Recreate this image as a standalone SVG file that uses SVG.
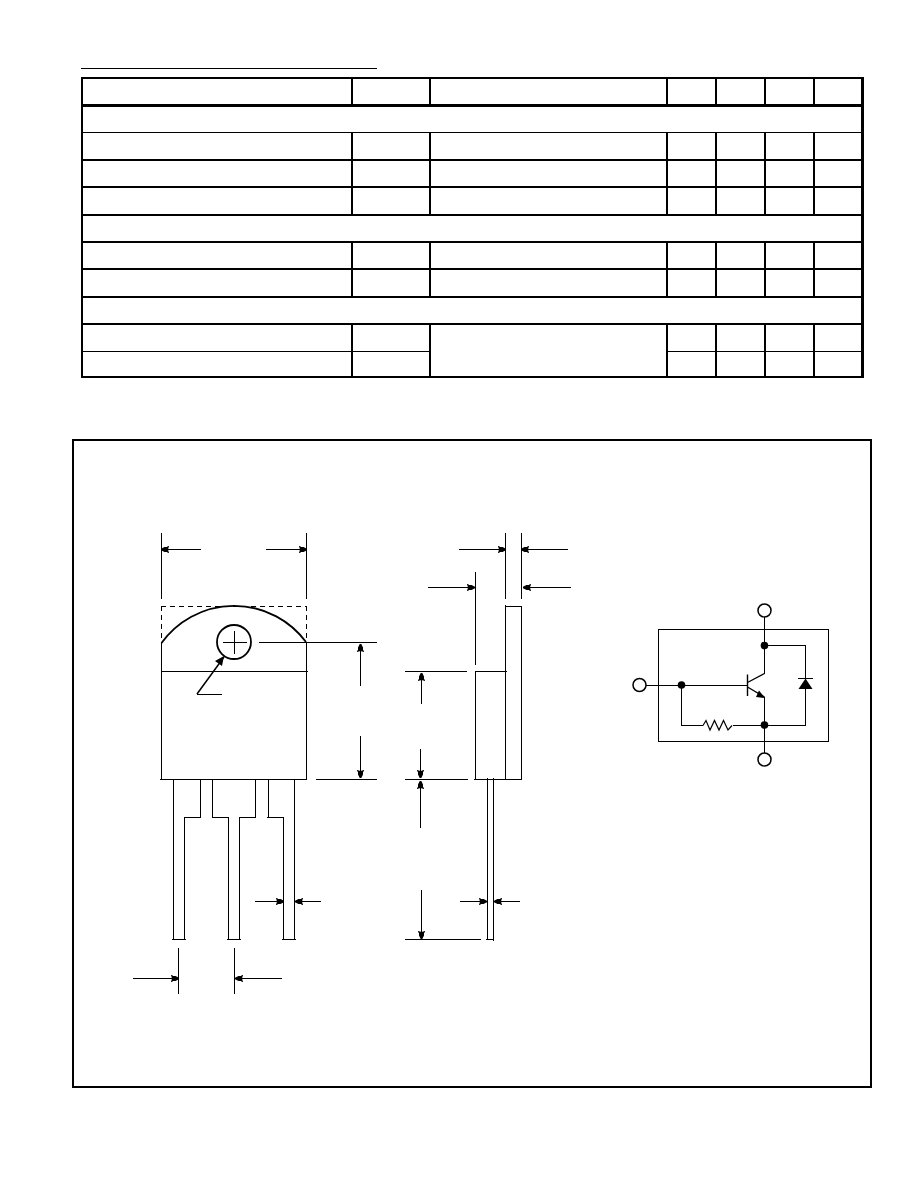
<svg xmlns="http://www.w3.org/2000/svg" width="918" height="1188" viewBox="0 0 918 1188">
<style>
.l{fill:none;stroke:#000;stroke-width:1;shape-rendering:crispEdges}
.t2{stroke:#000;stroke-width:2;shape-rendering:crispEdges}
.t1{stroke:#000;stroke-width:1;shape-rendering:crispEdges}
.a{fill:none;stroke:#000;stroke-width:1;marker-end:url(#ah);shape-rendering:crispEdges}
.d{fill:#000}
.c{fill:#fff;stroke:#000;stroke-width:1.5}
</style>
<defs>
<marker id="ah" markerUnits="userSpaceOnUse" markerWidth="10" markerHeight="8" refX="9" refY="4" orient="auto">
<path d="M1 0.5H2L3 1.5H5.5L9 3.2V4.8L5.5 6.5H3L2 7.5H1L2 4Z" fill="#000"/>
</marker>
</defs>
<rect width="918" height="1188" fill="#fff"/>
<g id="table">
<line class="t1" x1="81" y1="68.5" x2="377" y2="68.5"/>
<rect x="82" y="78" width="780" height="299" fill="none" stroke="#000" stroke-width="2" shape-rendering="crispEdges"/>
<line x1="862.5" y1="77" x2="862.5" y2="378" stroke="#000" stroke-width="3" shape-rendering="crispEdges"/>
<line x1="82" y1="105.5" x2="862" y2="105.5" stroke="#000" stroke-width="3" shape-rendering="crispEdges"/>
<line class="t1" x1="82" y1="132.5" x2="862" y2="132.5"/>
<line class="t2" x1="82" y1="160" x2="862" y2="160"/>
<line class="t2" x1="82" y1="187" x2="862" y2="187"/>
<line class="t2" x1="82" y1="215" x2="862" y2="215"/>
<line class="t2" x1="82" y1="242" x2="862" y2="242"/>
<line class="t2" x1="82" y1="269" x2="862" y2="269"/>
<line class="t2" x1="82" y1="297" x2="862" y2="297"/>
<line class="t2" x1="82" y1="324" x2="862" y2="324"/>
<line class="t1" x1="82" y1="351.5" x2="430" y2="351.5"/>
<line class="t1" x1="667" y1="351.5" x2="862" y2="351.5"/>
<path class="t2" fill="none" d="M352 78V105M430 78V105M667 78V105M716 78V105M765 78V105M814 78V105"/>
<path class="t2" fill="none" d="M352 132V215M430 132V215M667 132V215M716 132V215M765 132V215M814 132V215"/>
<path class="t2" fill="none" d="M352 242V297M430 242V297M667 242V297M716 242V297M765 242V297M814 242V297"/>
<path class="t2" fill="none" d="M352 324V377M430 324V377M667 324V377M716 324V377M765 324V377M814 324V377"/>
</g>
<rect id="frame" x="73" y="440" width="798" height="647" fill="none" stroke="#000" stroke-width="2" shape-rendering="crispEdges"/>
<g id="front-view">
<path class="l" d="M161.5 643V779.5M306.5 642V779.5M160 779.5H307M161.5 671.5H308"/>
<path fill="none" stroke="#000" stroke-width="1" stroke-dasharray="5 4" shape-rendering="crispEdges" d="M161 606.5H307M161.5 606V643M306.5 606V642"/>
<path fill="none" stroke="#000" stroke-width="1.8" d="M161.5 643A89.5 89.5 0 0 1 306 642"/>
<circle cx="234" cy="642" r="17" fill="none" stroke="#000" stroke-width="1.8"/>
<path class="l" d="M223 642.5H247M234.5 631V654"/>
<path class="l" d="M197 694.5H222"/>
<path fill="none" stroke="#000" stroke-width="1.5" d="M197 694L224 657"/>
<path fill="#000" d="M224 656L222 666L215 661Z"/>
<path class="l" d="M173.5 779V939.5M200.5 779V817.5M212.5 779V817.5M255.5 779V817.5M268.5 779V817.5M294.5 779V939.5"/>
<path class="l" d="M184.5 817.5V939.5M184 817.5H201M212 817.5H228.5M228.5 817.5V939.5M239.5 817.5V939.5M239 817.5H256M267 817.5H283.5M283.5 817.5V939.5"/>
<path class="l" d="M172 939.5H186M227 939.5H241M282 939.5H296"/>
</g>
<g id="side-view">
<path class="l" d="M505.5 605V779.5M521.5 606V779.5M505 606.5H522M475.5 671.5V779.5M475 671.5H507M474 779.5H522"/>
<path class="l" d="M487.5 778V940M493.5 778V941M486 939.5H494"/>
</g>
<g id="schematic">
<rect class="l" x="658.5" y="629.5" width="170" height="112"/>
<path class="l" d="M764.5 617V674M764.5 697V753M646 685.5H747M764.5 645.5H805.5V725.5H681.5V685.5M798 678.5H813"/>
<rect x="703" y="720" width="30" height="11" fill="#fff"/>
<path fill="none" stroke="#000" stroke-width="1.2" d="M703 725.5L706 720.5L710 730L714.5 720.5L719 730L723.5 720.5L728 730L732 725.5"/>
<path class="d" d="M805.5 678.5L798.5 689H812.5Z"/>
<path fill="none" stroke="#000" stroke-width="1.4" d="M747.5 674.5V696M747.5 682.5L764.5 673.5M747.5 687L764.5 697"/>
<path class="d" d="M765 698L756 697L759 690.5Z"/>
<circle class="d" cx="764.5" cy="645.5" r="3.8"/>
<circle class="d" cx="681.5" cy="685" r="3.8"/>
<circle class="d" cx="764.5" cy="725" r="3.8"/>
<circle class="c" cx="764.5" cy="610.5" r="6.5"/>
<circle class="c" cx="639.5" cy="685" r="6.5"/>
<circle class="c" cx="764.5" cy="759.5" r="6.5"/>
</g>
<g id="connectors">
<path class="l" d="M161.5 533V599M306.5 533V599M505.5 533V599M521.5 533V599M475.5 572V665M178.5 948V994M234.5 948V994"/>
<path class="l" d="M259 642.5H377M316 779.5H377M405 671.5H467M405 779.5H468M405 939.5H481"/>
<line class="a" x1="201" y1="549.5" x2="161" y2="549.5"/>
<line class="a" x1="266" y1="549.5" x2="307" y2="549.5"/>
<line class="a" x1="360.5" y1="686" x2="360.5" y2="644"/>
<line class="a" x1="360.5" y1="736" x2="360.5" y2="778"/>
<line class="a" x1="255" y1="901.5" x2="284" y2="901.5"/>
<line class="a" x1="321" y1="901.5" x2="295" y2="901.5"/>
<line class="a" x1="133" y1="978.5" x2="179" y2="978.5"/>
<line class="a" x1="282" y1="978.5" x2="235" y2="978.5"/>
<line class="a" x1="459" y1="549.5" x2="506" y2="549.5"/>
<line class="a" x1="568" y1="549.5" x2="521" y2="549.5"/>
<line class="a" x1="428" y1="587.5" x2="475" y2="587.5"/>
<line class="a" x1="571" y1="587.5" x2="523" y2="587.5"/>
<line class="a" x1="421.5" y1="704" x2="421.5" y2="673"/>
<line class="a" x1="420.5" y1="749" x2="420.5" y2="778"/>
<line class="a" x1="420.5" y1="828" x2="420.5" y2="781"/>
<line class="a" x1="421.5" y1="890" x2="421.5" y2="939"/>
<line class="a" x1="460" y1="901.5" x2="487" y2="901.5"/>
<line class="a" x1="520" y1="901.5" x2="494" y2="901.5"/>
</g>
</svg>
